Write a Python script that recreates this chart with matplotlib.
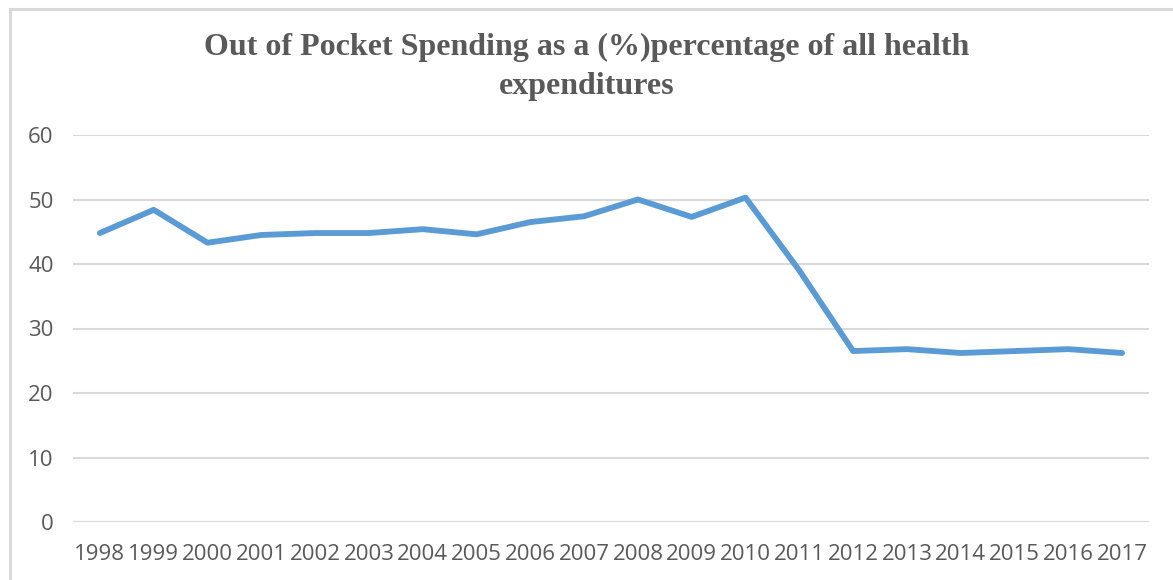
import matplotlib.pyplot as plt

years = [str(y) for y in range(1998, 2018)]
oop_share = [44.8, 48.4, 43.3, 44.5, 44.8, 44.8, 45.4, 44.6, 46.5, 47.4,
             50.0, 47.3, 50.3, 39.0, 26.5, 26.8, 26.2, 26.5, 26.8, 26.2]
y_ticks = [0, 10, 20, 30, 40, 50, 60]

W, H = 1173, 580
fig = plt.figure(figsize=(W / 100, H / 100), dpi=100)

# light grey chart border (only left and top visible in the crop)
fig.add_artist(plt.Line2D([9.5 / W, 9.5 / W], [0, 1 - 8.5 / H], color='#d9d9d9', lw=2.2))
fig.add_artist(plt.Line2D([9.5 / W, 1], [1 - 8.5 / H, 1 - 8.5 / H], color='#d9d9d9', lw=2.2))

ax = fig.add_axes([73 / W, (H - 522) / H, (1149 - 73) / W, (522 - 135) / H])
x = list(range(len(years)))
ax.plot(x, oop_share, color='#5b9bd5', lw=4.2, solid_capstyle='round', solid_joinstyle='round', zorder=3)

ax.set_xlim(-0.5, len(years) - 0.5)
ax.set_ylim(0, 60)
ax.set_yticks(y_ticks)
ax.set_xticks(x)
ax.set_xticklabels(years)
ax.grid(axis='y', color='#d9d9d9', lw=1.5)
ax.set_axisbelow(True)
for s in ax.spines.values():
    s.set_visible(False)
ax.tick_params(length=0, labelsize=16, labelcolor='#595959')
ax.tick_params(axis='x', pad=16)
ax.tick_params(axis='y', pad=14)
for lab in ax.get_xticklabels() + ax.get_yticklabels():
    lab.set_fontfamily('Open Sans')

fig.text(0.5, 1 - 67 / H, "Out of Pocket Spending as a (%)percentage of all health\nexpenditures",
         ha='center', va='center', fontsize=23, fontweight='bold', color='#595959',
         family='Liberation Serif', linespacing=1.42)

fig.savefig('out.png', dpi=100)
